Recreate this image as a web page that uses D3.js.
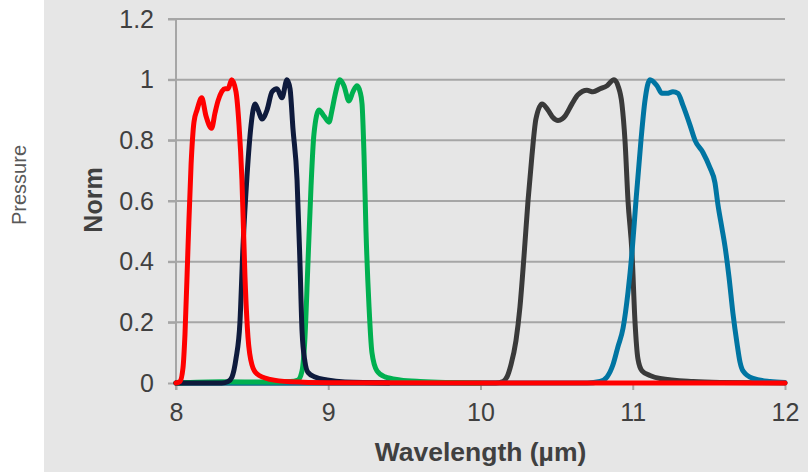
<!DOCTYPE html>
<html>
<head>
<meta charset="utf-8">
<script src="https://cdn.jsdelivr.net/npm/d3@7"></script>
<style>
  html, body { margin: 0; padding: 0; background: #ffffff; }
  svg { display: block; }
  text { font-family: "Liberation Sans", Arial, sans-serif; }
</style>
</head>
<body>
<svg id="chart" width="808" height="472"></svg>
<script>
// Normalised filter transmission curves: [wavelength µm, norm]
const redBand = [
  [8.0, 0], [8.026, 0.005], [8.046, 0.05], [8.059, 0.16], [8.079, 0.45], [8.099, 0.72],
  [8.118, 0.86], [8.138, 0.9], [8.169, 0.94], [8.197, 0.88], [8.234, 0.84], [8.256, 0.89],
  [8.276, 0.93], [8.322, 0.97], [8.342, 0.97], [8.366, 1.0], [8.394, 0.96], [8.414, 0.85],
  [8.433, 0.67], [8.453, 0.35], [8.473, 0.15], [8.499, 0.06], [8.532, 0.03], [8.617, 0.012],
  [8.749, 0.004], [9.0, 0.001], [10.0, 0], [11.0, 0], [12.0, 0]
];
const navyBand = [
  [8.0, 0], [8.3, 0], [8.342, 0.005], [8.368, 0.02], [8.394, 0.08], [8.42, 0.2], [8.44, 0.45],
  [8.466, 0.68], [8.493, 0.85], [8.519, 0.92], [8.539, 0.9], [8.565, 0.87], [8.598, 0.9],
  [8.631, 0.96], [8.663, 0.97], [8.696, 0.94], [8.729, 1.0], [8.749, 0.97], [8.768, 0.84],
  [8.795, 0.67], [8.814, 0.4], [8.828, 0.17], [8.847, 0.07], [8.867, 0.035], [8.913, 0.02],
  [8.992, 0.01], [9.11, 0.003], [9.4, 0]
];
const greenBand = [
  [8.0, 0], [8.3, 0.004], [8.6, 0.003], [8.75, 0.005], [8.801, 0.01], [8.828, 0.04],
  [8.847, 0.15], [8.867, 0.4], [8.887, 0.65], [8.906, 0.82], [8.939, 0.9], [8.972, 0.88],
  [9.005, 0.86], [9.025, 0.9], [9.045, 0.95], [9.077, 1.0], [9.103, 0.98], [9.136, 0.93],
  [9.162, 0.96], [9.189, 0.98], [9.209, 0.96], [9.222, 0.92], [9.235, 0.75], [9.248, 0.5],
  [9.268, 0.25], [9.287, 0.1], [9.32, 0.04], [9.373, 0.02], [9.471, 0.01], [9.603, 0.005],
  [10.0, 0]
];
const greyBand = [
  [8.0, 0], [10.1, 0], [10.148, 0.005], [10.174, 0.02], [10.2, 0.06], [10.233, 0.14],
  [10.259, 0.25], [10.286, 0.42], [10.312, 0.6], [10.338, 0.75], [10.364, 0.87], [10.404, 0.92],
  [10.443, 0.9], [10.476, 0.875], [10.509, 0.865], [10.535, 0.87], [10.555, 0.88], [10.601, 0.92],
  [10.64, 0.95], [10.699, 0.965], [10.739, 0.96], [10.785, 0.97], [10.831, 0.98], [10.877, 1.0],
  [10.903, 0.98], [10.929, 0.92], [10.949, 0.8], [10.969, 0.6], [10.995, 0.43], [11.015, 0.2],
  [11.034, 0.08], [11.061, 0.04], [11.113, 0.025], [11.179, 0.015], [11.396, 0.005],
  [11.573, 0.002], [12.0, 0]
];
const blueBand = [
  [8.0, 0], [10.7, 0], [10.785, 0.005], [10.831, 0.02], [10.87, 0.06], [10.903, 0.12],
  [10.936, 0.18], [10.969, 0.3], [10.995, 0.43], [11.021, 0.6], [11.054, 0.8], [11.08, 0.93],
  [11.113, 1.0], [11.159, 0.98], [11.192, 0.955], [11.225, 0.955], [11.264, 0.96], [11.297, 0.955],
  [11.33, 0.915], [11.376, 0.85], [11.409, 0.8], [11.461, 0.76], [11.507, 0.71], [11.54, 0.66],
  [11.559, 0.59], [11.586, 0.51], [11.606, 0.45], [11.632, 0.35], [11.658, 0.23], [11.685, 0.13],
  [11.704, 0.07], [11.724, 0.04], [11.79, 0.015], [11.902, 0.005], [12.0, 0.002]
];

const xTicks = [8, 9, 10, 11, 12];
const yTicks = [0, 0.2, 0.4, 0.6, 0.8, 1, 1.2];

// drawing order: later series sit on top
const seriesList = [
  { values: greyBand,  color: "#3a3a3a" },
  { values: blueBand,  color: "#0075a2" },
  { values: greenBand, color: "#00b050" },
  { values: navyBand,  color: "#0e1a3c" },
  { values: redBand,   color: "#ff0000" }
];

const svg = d3.select("#chart");
const W = 808, H = 472;

// grey panel behind the plot
svg.append("rect").attr("x", 44).attr("y", 0).attr("width", W - 44).attr("height", H)
  .attr("fill", "#e6e6e6");

const x = d3.scaleLinear().domain([8, 12]).range([176, 785]);
const y = d3.scaleLinear().domain([0, 1.2]).range([383, 19]);

// horizontal gridlines with short outer ticks
svg.append("g").selectAll("line").data(yTicks.filter(d => d > 0)).join("line")
  .attr("x1", 168).attr("x2", 785)
  .attr("y1", d => y(d)).attr("y2", d => y(d))
  .attr("stroke", "#a6a6a6").attr("stroke-width", 2);

// y axis
const yAxis = d3.axisLeft(y).tickValues(yTicks).tickSize(8).tickPadding(14)
  .tickFormat(d => d3.format("~g")(d));
const gy = svg.append("g").attr("transform", "translate(176,0)").call(yAxis);
gy.select(".domain").attr("stroke", "#a6a6a6").attr("stroke-width", 2)
  .attr("d", `M0,${y(1.2)}V390`);
gy.selectAll(".tick line").attr("stroke", "#a6a6a6").attr("stroke-width", 2);
gy.selectAll(".tick text").attr("fill", "#404040").style("font-size", "25px")
  .style("font-family", "'Liberation Sans', Arial, sans-serif");

// x axis
const xAxis = d3.axisBottom(x).tickValues(xTicks).tickSize(7).tickPadding(13)
  .tickFormat(d3.format("d"));
const gx = svg.append("g").attr("transform", `translate(0,${y(0)})`).call(xAxis);
gx.select(".domain").attr("stroke", "#a6a6a6").attr("stroke-width", 2)
  .attr("d", `M${x(8)},0H${x(12)}`);
gx.selectAll(".tick line").attr("stroke", "#a6a6a6").attr("stroke-width", 2);
gx.selectAll(".tick text").attr("fill", "#404040").style("font-size", "25px")
  .style("font-family", "'Liberation Sans', Arial, sans-serif");

// curves
const line = d3.line().x(d => x(d[0])).y(d => y(d[1])).curve(d3.curveMonotoneX);
svg.append("g").selectAll("path").data(seriesList).join("path")
  .attr("d", d => line(d.values))
  .attr("fill", "none")
  .attr("stroke", d => d.color)
  .attr("stroke-width", 5)
  .attr("stroke-linejoin", "round")
  .attr("stroke-linecap", "round");

// axis titles
svg.append("text").attr("x", x(10)).attr("y", 461).attr("text-anchor", "middle")
  .attr("fill", "#404040").style("font-size", "26.5px").style("font-weight", "bold")
  .text("Wavelength (µm)");

svg.append("text").attr("transform", "translate(102,200) rotate(-90)")
  .attr("text-anchor", "middle").attr("fill", "#404040")
  .style("font-size", "25px").style("font-weight", "bold")
  .text("Norm");

svg.append("text").attr("transform", "translate(26,185) rotate(-90)")
  .attr("text-anchor", "middle").attr("fill", "#595959")
  .style("font-size", "20px")
  .text("Pressure");
</script>
</body>
</html>
